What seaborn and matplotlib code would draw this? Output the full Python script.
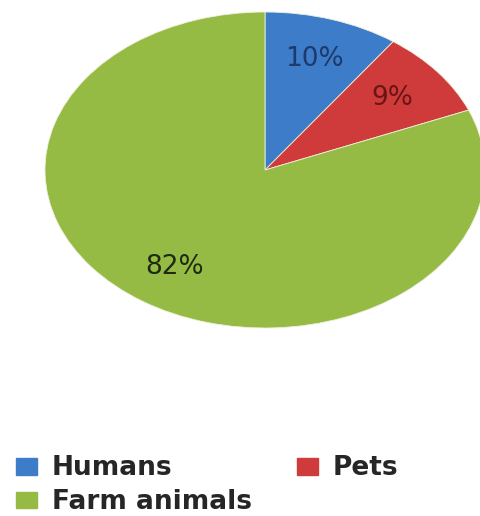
import matplotlib
matplotlib.use("Agg")
import matplotlib.pyplot as plt
import matplotlib.patches as mpatches
import seaborn as sns

# data
groups = ["Humans", "Pets", "Farm animals"]
shares = [10, 9, 82]
pct_labels = ["10%", "9%", "82%"]
slice_colors = ["#3d7cc9", "#cf3b3a", "#95bb45"]
label_colors = ["#1d3a6b", "#6b1414", "#1f2a10"]

sns.set_theme(style="white")
plt.rcParams['font.family'] = ['DejaVu Sans']
pal = sns.color_palette(slice_colors)

fig = plt.figure(figsize=(4.8, 5.16), dpi=100)
# pie area is stretched wider than tall, like the source image
ax = fig.add_axes([45 / 480, 1 - 328 / 516, 440 / 480, 316 / 516])

wedges, texts, autotexts = ax.pie(
    shares, colors=pal, startangle=90, counterclock=False,
    autopct="%d%%", pctdistance=0.74,
    wedgeprops=dict(edgecolor="#eef0dc", linewidth=0.6),
)
for t, lab, c in zip(autotexts, pct_labels, label_colors):
    t.set_text(lab)
    t.set_color(c)
    t.set_fontsize(19)

ax.set_aspect("auto")
ax.set_xlim(-1, 1)
ax.set_ylim(-1, 1)
ax.axis("off")

# legend: Humans / Pets on first row, Farm animals below
handles = [mpatches.Patch(color=pal[i], label=groups[i]) for i in [0, 2, 1]]
fig.legend(handles=handles, ncol=2, loc="upper left",
           bbox_to_anchor=(-0.005, 1 - 437 / 516), frameon=False,
           prop=dict(size=19, weight="bold"), handlelength=0.8, handleheight=0.6,
           handletextpad=0.55, columnspacing=1.7, labelspacing=0.3,
           borderaxespad=0.3)

fig.savefig("out.png", dpi=100)
